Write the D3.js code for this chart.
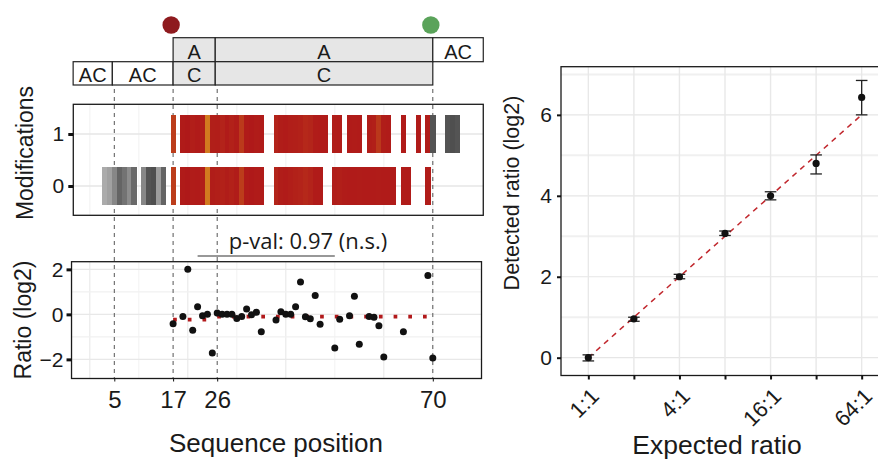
<!DOCTYPE html>
<html>
<head>
<meta charset="utf-8">
<script src="https://cdn.jsdelivr.net/npm/d3@7"></script>
<style>
  body { margin: 0; background: #fff; }
  text { font-family: "Liberation Sans", Arial, sans-serif; fill: #1a1a1a; }
</style>
</head>
<body>
<svg id="fig" width="878" height="461"></svg>
<script>
// DATA

// sequence annotation (positions along the sequence)
var topBoxLabels = ["A", "A", "AC"];
var topBoxStart = [17, 25.6, 70];
var topBoxEnd = [25.6, 70, 80.3];
var topBoxShaded = [true, true, false];

var bottomBoxLabels = ["AC", "AC", "C", "C"];
var bottomBoxStart = [-3.4, 4.6, 17, 25.6];
var bottomBoxEnd = [4.6, 17, 25.6, 70];
var bottomBoxShaded = [false, false, true, true];

var siteNames = ["start", "end"];
var sitePositions = [16.6, 69.6];

var markerPositions = [5, 17, 26, 70];

// modification tiles, row "1" and row "0"
var modPos1 = [17, 19, 20, 21, 22, 23, 24, 25, 26, 27, 28, 29, 30, 31, 32, 33, 34, 35,
  38, 39, 40, 41, 42, 43, 44, 45, 46, 47, 48, 50, 51, 53, 54, 55, 57, 58, 59, 60, 61,
  64, 67, 69, 70, 73, 74, 75];
var modVal1 = [0.35, 0.02, 0.0, 0.05, 0.02, 0.06, 0.95, 0.06, 0.05, 0.1, 0.02, 0.08, 0.03, 0.32, 0.02, 0.0, 0.03, 0.02,
  0.1, 0.04, 0.02, 0.05, 0.06, 0.08, 0.15, 0.12, 0.03, 0.02, 0.02, 0.04, 0.03, 0.02, 0.03, 0.02, 0.04, 0.06, 0.3, 0.04, 0.02,
  0.02, 0.02, 0.03, 0.9, 0.9, 0.95, 0.9];

var modPos0 = [3, 4, 5, 6, 7, 8, 9, 11, 12, 13, 14, 15, 17, 19, 20, 21, 22, 23, 24, 25, 26, 27,
  28, 29, 30, 31, 32, 33, 34, 35, 38, 39, 40, 41, 42, 43, 44, 45, 46, 47, 50, 51, 52, 53,
  54, 55, 56, 57, 58, 59, 60, 61, 62, 64, 65, 69];
var modVal0 = [0.05, 0.15, 0.4, 0.75, 0.6, 0.35, 0.7, 0.4, 0.9, 0.95, 0.2, 0.75, 0.35, 0.02, 0.0, 0.03, 0.02, 0.05, 0.95, 0.04,
  0.06, 0.08, 0.04, 0.08, 0.03, 0.35, 0.02, 0.0, 0.02, 0.02, 0.12, 0.04, 0.02, 0.05, 0.08, 0.1, 0.15, 0.1, 0.02,
  0.02, 0.04, 0.06, 0.03, 0.02, 0.02, 0.03, 0.02, 0.02, 0.02, 0.03, 0.02, 0.02, 0.02, 0.03, 0.02, 0.03];

// ratio per position (log2)
var ratioPos = [17, 19, 20, 21, 22, 23, 24, 25, 26, 27, 28, 29, 30, 31, 32, 33, 34, 35,
  38, 39, 40, 41, 42, 43, 44, 45, 46, 47, 50, 51, 53, 54, 55, 57, 58, 59, 60, 64, 69, 70];
var ratioVal = [-0.42, -0.09, 2.01, -0.71, 0.34, -0.06, 0.01, -1.72, 0.06, 0.01, 0.0, 0.0, -0.18, -0.09, 0.24, -0.02, 0.09, -0.77,
  -0.25, 0.12, 0.01, 0.0, 0.34, 1.44, -0.11, -0.2, 0.84, -0.44, -1.5, -0.22, -0.06, 0.81, -1.33, -0.09, -0.13, -0.51, -1.9,
  -0.77, 1.73, -1.94];

// group means (dotted red)
var meanStart = [17, 26];
var meanEnd = [25, 69];
var meanVal = [-0.23, -0.1];

var pvalText = "p-val: 0.97 (n.s.)";
var pvalFrom = 22, pvalTo = 50;

// right panel: expected vs detected
var expectedLabels = ["1:1", "2:1", "4:1", "8:1", "16:1", "32:1", "64:1"];
var shownLabels = ["1:1", "4:1", "16:1", "64:1"];
var expectedLog2 = [0, 1, 2, 3, 4, 5, 6];
var detectedMean = [0.0, 0.96, 2.0, 3.07, 4.0, 4.8, 6.43];
var detectedLow = [-0.08, 0.9, 1.95, 3.02, 3.9, 4.54, 6.0];
var detectedHigh = [0.07, 1.0, 2.06, 3.13, 4.1, 5.01, 6.85];

// SETUP

var svg = d3.select("#fig");
var red = "#b2191b", orange = "#d4801f";
var redShade = d3.interpolateRgb("#af1919", orange);
var greyShade = d3.interpolateRgb("#b0b0b0", "#4a4a4a");

var x = d3.scaleLinear().domain([0, 70]).range([89.8, 432.8]);
var yMod = d3.scaleLinear().domain([-0.563, 1.571]).range([215.3, 104.3]);
var yRat = d3.scaleLinear().domain([-2.85, 2.34]).range([378.5, 261.7]);

var modLeft = x(-3.37), modRight = x(80.3);
var ratLeft = x(-3.73), ratRight = x(79.94);

// ANNOTATION BOXES

function drawBoxes(labels, starts, ends, shaded, y0, h) {
  var g = svg.append("g");
  labels.forEach(function (lab, i) {
    g.append("rect")
      .attr("x", x(starts[i])).attr("y", y0)
      .attr("width", x(ends[i]) - x(starts[i])).attr("height", h)
      .attr("fill", shaded[i] ? "#e6e6e6" : "#fff")
      .attr("stroke", "#222").attr("stroke-width", 1.2);
    g.append("text")
      .attr("x", (x(starts[i]) + x(ends[i])) / 2)
      .attr("y", y0 + h - 3)
      .attr("text-anchor", "middle")
      .style("font-size", "20px")
      .text(lab);
  });
}
drawBoxes(topBoxLabels, topBoxStart, topBoxEnd, topBoxShaded, 37.7, 24);
drawBoxes(bottomBoxLabels, bottomBoxStart, bottomBoxEnd, bottomBoxShaded, 61.7, 23.3);

svg.selectAll(".site")
  .data(siteNames)
  .enter().append("circle")
  .attr("class", "site")
  .attr("cx", function (d, i) { return x(sitePositions[i]); })
  .attr("cy", 25)
  .attr("r", 8.7)
  .attr("fill", function (d) { return d === "start" ? "#8e1a1e" : "#5aa35a"; });

// GRIDS

var modGrid = svg.append("g");
d3.range(0, 71, 10).forEach(function (p) {
  modGrid.append("line")
    .attr("x1", x(p)).attr("x2", x(p))
    .attr("y1", yMod.range()[1]).attr("y2", yMod.range()[0])
    .attr("stroke", "#f6f6f6").attr("stroke-width", 1.5);
});
[0, 1].forEach(function (v) {
  modGrid.append("line")
    .attr("x1", modLeft).attr("x2", modRight)
    .attr("y1", yMod(v)).attr("y2", yMod(v))
    .attr("stroke", "#e6e6e6").attr("stroke-width", 1.6);
});

var ratGrid = svg.append("g");
d3.range(0, 71, 10).forEach(function (p) {
  ratGrid.append("line")
    .attr("x1", x(p)).attr("x2", x(p))
    .attr("y1", yRat.range()[1]).attr("y2", yRat.range()[0])
    .attr("stroke", p % 20 === 0 ? "#e8e8e8" : "#f3f3f3").attr("stroke-width", 1.1);
});
[-2, -1, 0, 1, 2].forEach(function (v) {
  ratGrid.append("line")
    .attr("x1", ratLeft).attr("x2", ratRight)
    .attr("y1", yRat(v)).attr("y2", yRat(v))
    .attr("stroke", v % 2 === 0 ? "#e8e8e8" : "#f1f1f1").attr("stroke-width", 1.2);
});

// dashed markers running through both panels
svg.selectAll(".marker")
  .data(markerPositions)
  .enter().append("line")
  .attr("class", "marker")
  .attr("x1", function (d) { return x(d); }).attr("x2", function (d) { return x(d); })
  .attr("y1", 89).attr("y2", yRat.range()[0])
  .attr("stroke", "#555").attr("stroke-width", 1)
  .attr("stroke-dasharray", "4,4");

// MODIFICATION TILES

function tileColor(p, v) {
  return (p < 17 || p >= 70) ? greyShade(v) : redShade(v);
}
var tileW = x(1) - x(0), tileH = yMod(0) - yMod(0.72);

function drawTiles(rowValue, positions, values) {
  svg.append("g").selectAll("rect")
    .data(positions)
    .enter().append("rect")
    .attr("x", function (d) { return x(d - 0.5); })
    .attr("y", yMod(rowValue + 0.36))
    .attr("width", tileW + 0.3)
    .attr("height", tileH)
    .attr("fill", function (d, i) { return tileColor(d, values[i]); })
    .attr("shape-rendering", "crispEdges");
}
drawTiles(1, modPos1, modVal1);
drawTiles(0, modPos0, modVal0);

// RATIO POINTS

svg.append("g").selectAll("line")
  .data(meanVal)
  .enter().append("line")
  .attr("x1", function (d, i) { return x(meanStart[i]); })
  .attr("x2", function (d, i) { return x(meanEnd[i]) + 2; })
  .attr("y1", function (d) { return yRat(d); })
  .attr("y2", function (d) { return yRat(d); })
  .attr("stroke", red).attr("stroke-width", 3.7)
  .attr("stroke-dasharray", "3.7,11");

svg.append("g").selectAll("circle")
  .data(ratioVal)
  .enter().append("circle")
  .attr("cx", function (d, i) { return x(ratioPos[i]); })
  .attr("cy", function (d) { return yRat(d); })
  .attr("r", 3.5)
  .attr("fill", "#111");

// p-value bracket
svg.append("line")
  .attr("x1", x(pvalFrom)).attr("x2", x(pvalTo))
  .attr("y1", 256).attr("y2", 256)
  .attr("stroke", "#333").attr("stroke-width", 1.2);
svg.append("text")
  .attr("x", 308).attr("y", 248.5)
  .attr("text-anchor", "middle")
  .style("font-family", "'Open Sans', 'Noto Sans', sans-serif")
  .style("font-size", "22px")
  .text(pvalText);

// PANEL BORDERS + AXES

function frame(x0, y0, x1, y1) {
  svg.append("rect")
    .attr("x", x0).attr("y", y0)
    .attr("width", x1 - x0).attr("height", y1 - y0)
    .attr("fill", "none").attr("stroke", "#1a1a1a").attr("stroke-width", 1.3);
}
frame(modLeft, yMod.range()[1], modRight, yMod.range()[0]);
frame(ratLeft, yRat.range()[1], ratRight, yRat.range()[0]);

function styleAxis(g, size, w) {
  g.select(".domain").remove();
  g.selectAll(".tick line").attr("stroke", "#111").attr("stroke-width", w);
  g.selectAll(".tick text").style("font-size", size).attr("fill", "#1a1a1a")
    .style("font-family", "'Liberation Sans', Arial, sans-serif");
}

svg.append("g")
  .attr("transform", "translate(" + modLeft + ",0)")
  .call(d3.axisLeft(yMod).tickValues([0, 1]).tickFormat(d3.format("d")).tickSize(5).tickPadding(4))
  .call(styleAxis, "21px", 3);

svg.append("g")
  .attr("transform", "translate(" + ratLeft + ",0)")
  .call(d3.axisLeft(yRat).tickValues([-2, 0, 2]).tickFormat(d3.format("d")).tickSize(5).tickPadding(3))
  .call(styleAxis, "21px", 3);

svg.append("g")
  .attr("transform", "translate(0," + yRat.range()[0] + ")")
  .call(d3.axisBottom(x).tickValues(markerPositions).tickSize(3).tickPadding(9))
  .call(styleAxis, "24px", 1);

svg.append("text")
  .attr("transform", "translate(33," + 153 + ") rotate(-90)")
  .attr("text-anchor", "middle")
  .style("font-size", "23px")
  .text("Modifications");
svg.append("text")
  .attr("transform", "translate(31," + 320 + ") rotate(-90)")
  .attr("text-anchor", "middle")
  .style("font-size", "23px")
  .text("Ratio (log2)");
svg.append("text")
  .attr("x", 276).attr("y", 452)
  .attr("text-anchor", "middle")
  .style("font-size", "26px")
  .text("Sequence position");

// RIGHT PANEL

var xr = d3.scaleLinear().domain([-0.6, 6.6]).range([561, 889]);
var yr = d3.scaleLinear().domain([-0.44, 7.19]).range([375.5, 66.7]);

var rg = svg.append("g");
[1, 3, 5, 7].forEach(function (v) {
  rg.append("line").attr("x1", xr.range()[0]).attr("x2", xr.range()[1])
    .attr("y1", yr(v)).attr("y2", yr(v))
    .attr("stroke", "#f0f0f0").attr("stroke-width", 2);
});
[0, 2, 4, 6].forEach(function (v) {
  rg.append("line").attr("x1", xr.range()[0]).attr("x2", xr.range()[1])
    .attr("y1", yr(v)).attr("y2", yr(v))
    .attr("stroke", "#e6e6e6").attr("stroke-width", 1.2);
});
expectedLog2.forEach(function (v) {
  rg.append("line").attr("x1", xr(v)).attr("x2", xr(v))
    .attr("y1", yr.range()[1]).attr("y2", yr.range()[0])
    .attr("stroke", "#e8e8e8").attr("stroke-width", 1.4);
});

// identity line
svg.append("line")
  .attr("x1", xr(expectedLog2[0])).attr("y1", yr(expectedLog2[0]))
  .attr("x2", xr(expectedLog2[6])).attr("y2", yr(expectedLog2[6]))
  .attr("stroke", "#c1272d").attr("stroke-width", 1.5)
  .attr("stroke-dasharray", "5.5,5");

var eb = svg.append("g").attr("stroke", "#222").attr("stroke-width", 1.3);
expectedLog2.forEach(function (v, i) {
  var cx = xr(v);
  eb.append("line").attr("x1", cx).attr("x2", cx)
    .attr("y1", yr(detectedLow[i])).attr("y2", yr(detectedHigh[i]));
  eb.append("line").attr("x1", cx - 5.8).attr("x2", cx + 5.8)
    .attr("y1", yr(detectedLow[i])).attr("y2", yr(detectedLow[i]));
  eb.append("line").attr("x1", cx - 5.8).attr("x2", cx + 5.8)
    .attr("y1", yr(detectedHigh[i])).attr("y2", yr(detectedHigh[i]));
});
svg.append("g").selectAll("circle")
  .data(detectedMean)
  .enter().append("circle")
  .attr("cx", function (d, i) { return xr(expectedLog2[i]); })
  .attr("cy", function (d) { return yr(d); })
  .attr("r", 3.6)
  .attr("fill", "#111");

frame(xr.range()[0], yr.range()[1], xr.range()[1], yr.range()[0]);

svg.append("g")
  .attr("transform", "translate(" + xr.range()[0] + ",0)")
  .call(d3.axisLeft(yr).tickValues([0, 2, 4, 6]).tickSize(4).tickPadding(5))
  .call(styleAxis, "21px", 2);

svg.append("g")
  .attr("transform", "translate(0," + yr.range()[0] + ")")
  .call(d3.axisBottom(xr).tickValues(expectedLog2).tickSize(4).tickFormat(""))
  .call(styleAxis, "20px", 2);

svg.append("g").selectAll("text")
  .data(expectedLabels)
  .enter().filter(function (d) { return shownLabels.indexOf(d) >= 0; })
  .append("text")
  .attr("transform", function (d) {
    var i = expectedLabels.indexOf(d);
    return "translate(" + (xr(expectedLog2[i]) + 1) + "," + (yr.range()[0] + 11) + ") rotate(-45)";
  })
  .attr("text-anchor", "end")
  .attr("dy", "0.71em")
  .style("font-size", "22px")
  .text(function (d) { return d; });

svg.append("text")
  .attr("transform", "translate(519,193) rotate(-90)")
  .attr("text-anchor", "middle")
  .style("font-size", "21.5px")
  .text("Detected ratio (log2)");
svg.append("text")
  .attr("x", 717).attr("y", 454)
  .attr("text-anchor", "middle")
  .style("font-size", "26.5px")
  .text("Expected ratio");
</script>
</body>
</html>
